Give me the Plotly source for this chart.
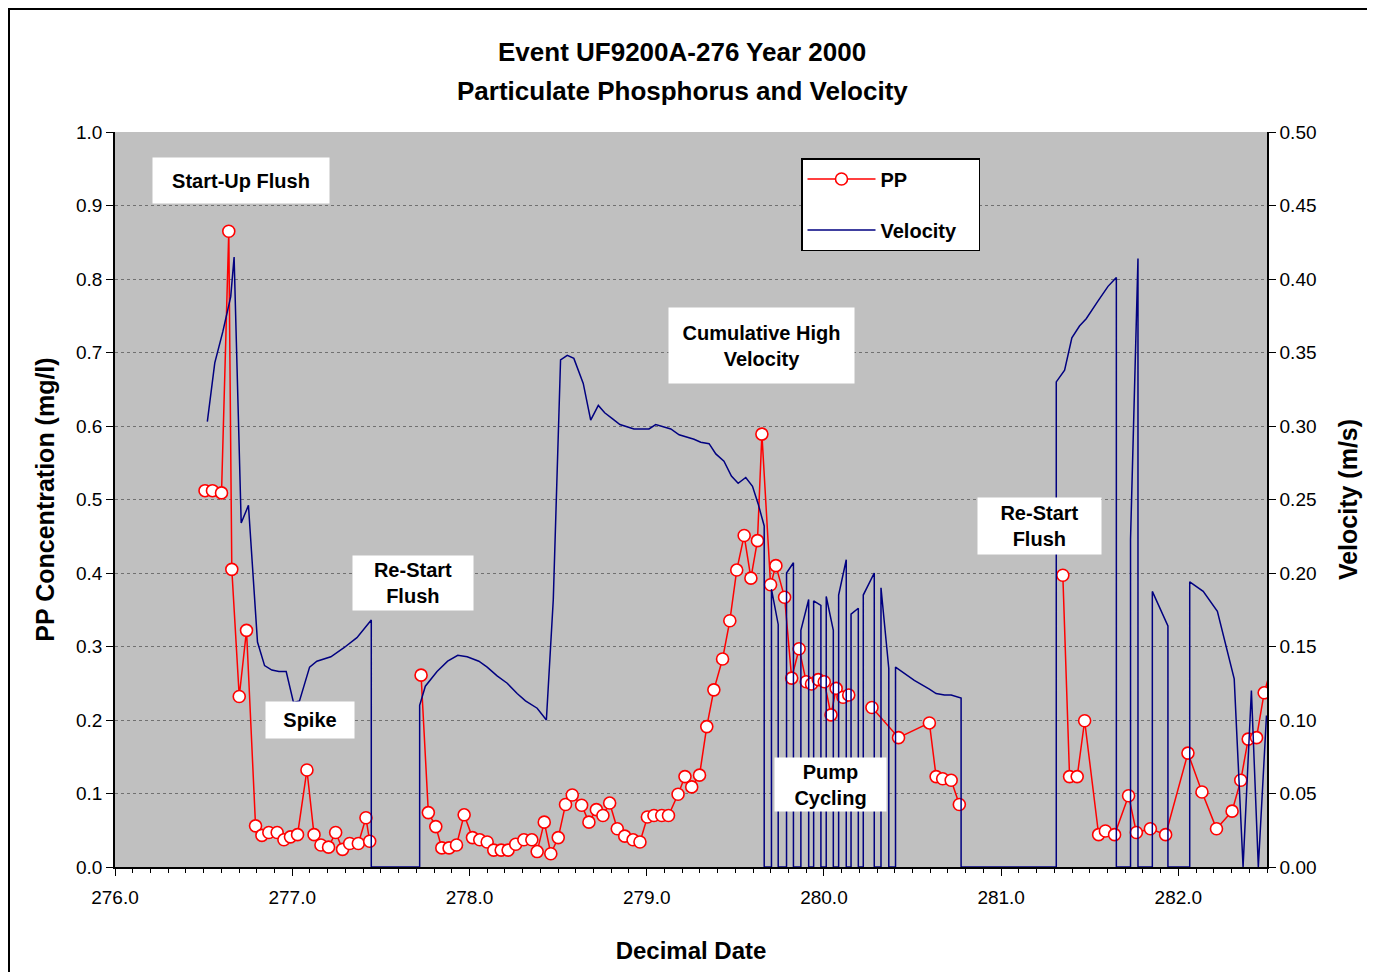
import plotly.graph_objects as go

# PP concentration (mg/l) vs decimal date; None = gap in record
pp_time = [
    276.508, 276.550, 276.601, 276.642, 276.659, 276.701, 276.742, 276.793, 276.829, 276.868,
    276.915, 276.953, 276.990, 277.030, 277.083, 277.123, 277.162, 277.205, 277.245, 277.284,
    277.324, 277.373, 277.416, 277.437, None,
    277.727, 277.768, 277.810, 277.844, 277.885, 277.927, 277.970, 278.017, 278.058, 278.100,
    278.137, 278.179, 278.218, 278.261, 278.307, 278.352, 278.382, 278.422, 278.459, 278.501,
    278.542, 278.580, 278.633, 278.674, 278.716, 278.753, 278.791, 278.834, 278.876, 278.923,
    278.962, 279.004, 279.041, 279.085, 279.123, 279.177, 279.216, 279.254, 279.298, 279.339,
    279.379, 279.428, 279.469, 279.508, 279.550, 279.588, 279.625, 279.650, 279.699, 279.729,
    279.778, 279.818, 279.860, 279.900, 279.930, 279.968, 280.002, 280.040, 280.069, 280.108,
    280.140, None,
    280.271, 280.421, 280.595, 280.633, 280.670, 280.718, 280.764, None,
    281.348, 281.386, 281.429, 281.471, 281.550, 281.588, 281.640, 281.719, 281.763, 281.842,
    281.928, 282.054, 282.133, 282.215, 282.303, 282.352, 282.394, 282.441, 282.484, 282.560,
]
pp_conc = [
    0.512, 0.512, 0.509, 0.865, 0.405, 0.232, 0.322, 0.056, 0.043, 0.047,
    0.047, 0.037, 0.041, 0.044, 0.132, 0.044, 0.030, 0.027, 0.047, 0.024,
    0.032, 0.032, 0.067, 0.035, None,
    0.261, 0.074, 0.055, 0.026, 0.026, 0.030, 0.071, 0.040, 0.037, 0.034,
    0.023, 0.023, 0.023, 0.031, 0.037, 0.037, 0.021, 0.061, 0.018, 0.040,
    0.085, 0.098, 0.084, 0.061, 0.078, 0.070, 0.087, 0.052, 0.042, 0.037,
    0.034, 0.068, 0.070, 0.070, 0.070, 0.099, 0.123, 0.109, 0.125, 0.191,
    0.241, 0.283, 0.335, 0.404, 0.451, 0.393, 0.444, 0.589, 0.384, 0.410,
    0.367, 0.257, 0.297, 0.252, 0.249, 0.255, 0.252, 0.207, 0.243, 0.231,
    0.234, None,
    0.217, 0.176, 0.196, 0.123, 0.120, 0.118, 0.085, None,
    0.397, 0.123, 0.123, 0.199, 0.044, 0.049, 0.044, 0.097, 0.047, 0.052,
    0.044, 0.155, 0.102, 0.052, 0.076, 0.118, 0.174, 0.176, 0.237, 0.300,
]

# Velocity (m/s) vs decimal date
vel_time = [
    276.521, 276.563, 276.608, 276.653, 276.672, 276.712, 276.753, 276.804, 276.844, 276.885,
    276.925, 276.966, 277.007, 277.041, 277.098, 277.139, 277.218, 277.290, 277.365, 277.446, 277.446,
    277.719, 277.719, 277.751, 277.817, 277.877, 277.934, 277.987, 278.053, 278.100, 278.156,
    278.213, 278.269, 278.316, 278.382, 278.434, 278.473, 278.514, 278.552, 278.589, 278.642,
    278.684, 278.727, 278.763, 278.806, 278.849, 278.928, 279.013, 279.051, 279.136, 279.183,
    279.267, 279.305, 279.352, 279.390, 279.436, 279.478, 279.516, 279.559, 279.597, 279.629,
    279.663, 279.663,
    279.704, 279.704, 279.742, 279.742,
    279.789, 279.789, 279.828, 279.828,
    279.870, 279.870, 279.914, 279.914,
    279.942, 279.942, 279.983, 279.983,
    280.013, 280.013, 280.053, 280.053,
    280.083, 280.083, 280.126, 280.126,
    280.153, 280.153, 280.194, 280.194,
    280.222, 280.222, 280.284, 280.284,
    280.322, 280.322, 280.366, 280.366,
    280.404, 280.404, 280.510, 280.595, 280.633, 280.680, 280.718, 280.774, 280.774,
    281.311, 281.311, 281.358, 281.399, 281.442, 281.480, 281.546, 281.603, 281.650, 281.650,
    281.730, 281.730, 281.772, 281.772,
    281.853, 281.853, 281.941, 281.941,
    282.064, 282.064, 282.140, 282.220, 282.315, 282.365, 282.412, 282.451, 282.497,
]
vel_ms = [
    0.303, 0.343, 0.364, 0.388, 0.415, 0.234, 0.246, 0.153, 0.137, 0.134,
    0.133, 0.133, 0.112, 0.113, 0.136, 0.140, 0.143, 0.149, 0.156, 0.168, 0.0,
    0.0, 0.110, 0.123, 0.133, 0.140, 0.144, 0.143, 0.140, 0.136, 0.130,
    0.125, 0.118, 0.113, 0.108, 0.100, 0.182, 0.345, 0.348, 0.346, 0.329,
    0.304, 0.314, 0.309, 0.305, 0.301, 0.298, 0.298, 0.301, 0.298, 0.294,
    0.291, 0.289, 0.288, 0.281, 0.276, 0.266, 0.261, 0.265, 0.259, 0.247,
    0.232, 0.0,
    0.0, 0.189, 0.165, 0.0,
    0.0, 0.200, 0.207, 0.0,
    0.0, 0.161, 0.182, 0.0,
    0.0, 0.181, 0.178, 0.0,
    0.0, 0.184, 0.161, 0.0,
    0.0, 0.185, 0.209, 0.0,
    0.0, 0.172, 0.176, 0.0,
    0.0, 0.185, 0.200, 0.0,
    0.0, 0.190, 0.135, 0.0,
    0.0, 0.136, 0.127, 0.121, 0.118, 0.117, 0.117, 0.115, 0.0,
    0.0, 0.330, 0.338, 0.360, 0.368, 0.373, 0.385, 0.395, 0.401, 0.0,
    0.0, 0.223, 0.414, 0.0,
    0.0, 0.1875, 0.164, 0.0,
    0.0, 0.194, 0.1875, 0.174, 0.128, 0.0, 0.120, 0.0, 0.103,
]

# text boxes: label, centre (px), box size (px)
notes = [
    ('Start-Up Flush', (241, 180), (176, 45)),
    ('Spike', (310, 720), (88, 36)),
    ('Re-Start<br>Flush', (413, 583), (120, 54)),
    ('Cumulative High<br>Velocity', (761, 345), (185, 75)),
    ('Pump<br>Cycling', (830, 784), (111, 53)),
    ('Re-Start<br>Flush', (1039, 526), (123, 56)),
]

W, H = 1375, 972
OFF = 8  # page body margin
L, R, T, B = 115, 1267, 132, 867
FONT = 'Arial, Liberation Sans, sans-serif'


def px(x, y):
    return (x - L) / (R - L), (B - y) / (B - T)


fig = go.Figure()

fig.add_trace(go.Scatter(
    x=pp_time, y=pp_conc, mode='lines+markers', name='<b>PP</b>',
    line=dict(color='#FF0000', width=1.5),
    marker=dict(symbol='circle', size=12, color='white',
                line=dict(color='#FF0000', width=1.6)),
    legendgroup='pp', connectgaps=False,
))
fig.add_trace(go.Scatter(
    x=vel_time, y=vel_ms, mode='lines', name='<b>Velocity</b>\u00a0\u00a0\u00a0', yaxis='y2',
    line=dict(color='#000080', width=1.5),
    legendgroup='vel',
))

for text, (cx, cy), (w, h) in notes:
    ax, ay = px(cx, cy)
    fig.add_annotation(
        x=ax, y=ay, xref='paper', yref='paper', text=f'<b>{text}</b>',
        showarrow=False, xanchor='center', yanchor='middle',
        width=w, height=h, bgcolor='white', borderpad=0,
        font=dict(family=FONT, size=20, color='black'),
    )

for text, y in [('Event UF9200A-276 Year 2000', 52), ('Particulate Phosphorus and Velocity', 91)]:
    ax, ay = px(682, y)
    fig.add_annotation(
        x=ax, y=ay, xref='paper', yref='paper', text=f'<b>{text}</b>',
        showarrow=False, xanchor='center', yanchor='middle',
        font=dict(family=FONT, size=26, color='black'),
    )

# outer chart border
x0, y0 = px(9, 990)
x1, y1 = px(1390, 9)
fig.add_shape(type='rect', xref='paper', yref='paper', x0=x0, y0=y0, x1=x1, y1=y1,
              line=dict(color='black', width=2))

lx, ly = px(801, 158)
fig.update_layout(
    width=W, height=H,
    margin=dict(l=L - OFF, r=W - R + OFF, t=T - OFF, b=H - B + OFF),
    paper_bgcolor='white', plot_bgcolor='#C0C0C0',
    font=dict(family=FONT, size=19, color='black'),
    showlegend=True,
    legend=dict(
        x=lx, y=ly, xanchor='left', yanchor='top',
        bgcolor='white', bordercolor='black', borderwidth=1.5,
        font=dict(family=FONT, size=20, color='black'),
        itemwidth=68, tracegroupgap=22,
    ),
    xaxis=dict(
        range=[276, 282.5], dtick=1, tickformat='.1f',
        showgrid=False, zeroline=False, layer='above traces',
        showline=True, linecolor='black', linewidth=1.5,
        ticks='outside', ticklen=7, tickcolor='black', ticklabelstandoff=5,
        minor=dict(dtick=0.1, ticks='outside', ticklen=4, tickcolor='black', showgrid=False),
        title=dict(text='<b>Decimal Date</b>', font=dict(size=24), standoff=36),
    ),
    yaxis=dict(
        range=[0, 1.0], dtick=0.1, tickformat='.1f',
        showgrid=True, gridcolor='#707070', griddash='dot', gridwidth=1,
        zeroline=False,
        showline=True, linecolor='black', linewidth=1.5,
        ticks='outside', ticklen=7, tickcolor='black',
        title=dict(text='<b>PP Concentration (mg/l)</b>', font=dict(size=25), standoff=14),
    ),
    yaxis2=dict(
        range=[0, 0.5], dtick=0.05, tickformat='.2f',
        overlaying='y', side='right', showgrid=False, zeroline=False,
        showline=True, linecolor='black', linewidth=1.5,
        ticks='outside', ticklen=7, tickcolor='black',
        title=dict(text='<b>Velocity (m/s)</b>', font=dict(size=25), standoff=24),
    ),
)

fig.write_html('out.html')
